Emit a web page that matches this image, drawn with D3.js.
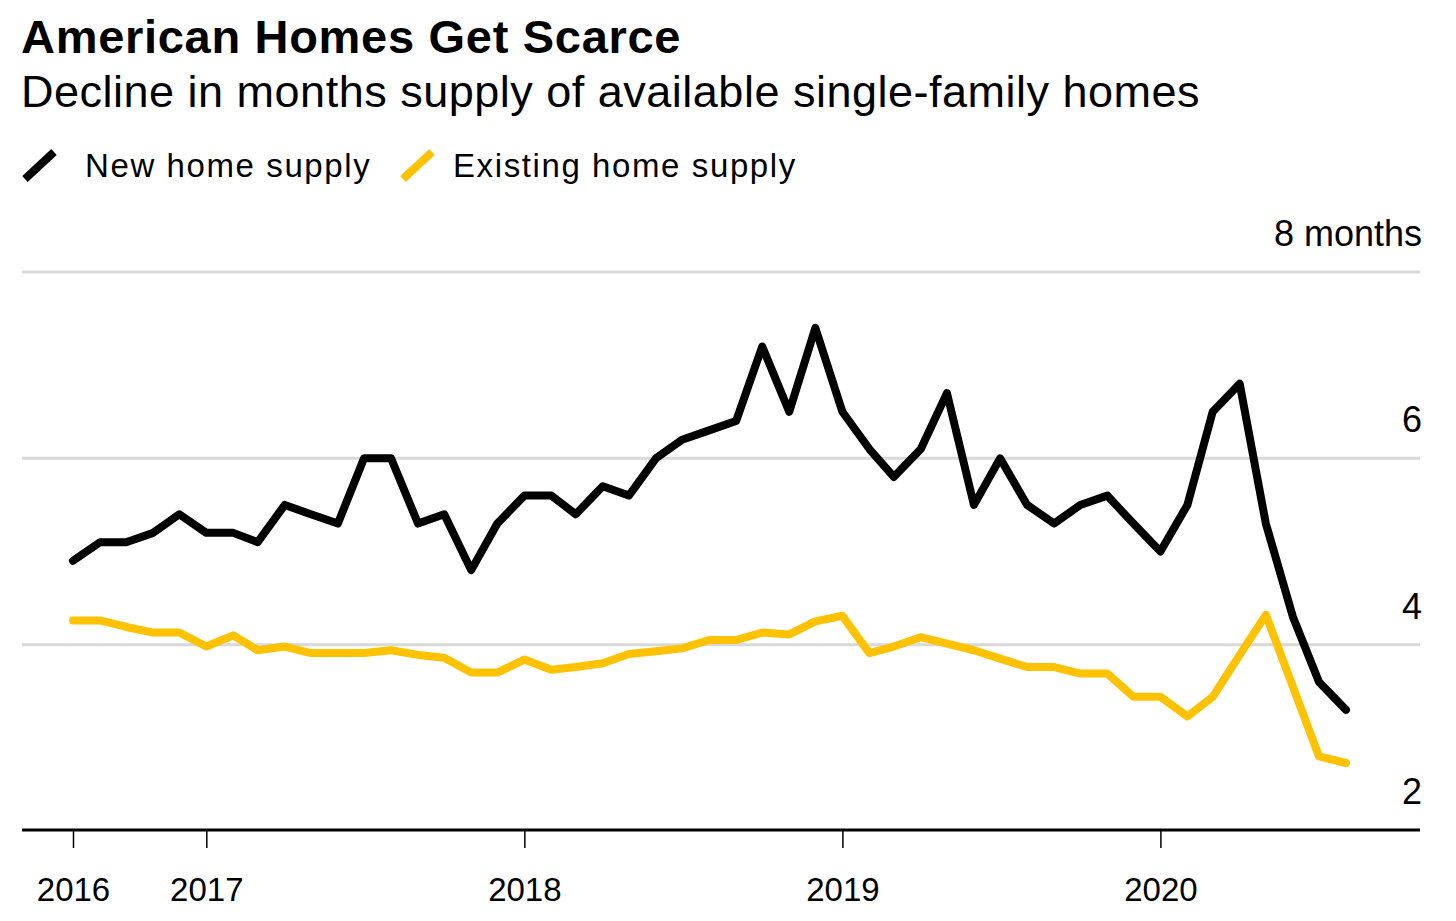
<!DOCTYPE html>
<html>
<head>
<meta charset="utf-8">
<script src="https://cdn.jsdelivr.net/npm/d3@7"></script>
<style>
  html, body { margin: 0; padding: 0; background: #fff; }
  svg { display: block; font-family: "Liberation Sans", Arial, Helvetica, sans-serif; }
</style>
</head>
<body>
<svg id="chart" width="1456" height="921"></svg>
<script>
// ---- Data ----
const startMonth = "2016-08";
const newHomeSupply = [4.9, 5.1, 5.1, 5.2, 5.4, 5.2, 5.2, 5.1, 5.5, 5.4, 5.3, 6.0, 6.0, 5.3, 5.4, 4.8,
  5.3, 5.6, 5.6, 5.4, 5.7, 5.6, 6.0, 6.2, 6.3, 6.4, 7.2, 6.5, 7.4, 6.5, 6.1, 5.8,
  6.1, 6.7, 5.5, 6.0, 5.5, 5.3, 5.5, 5.6, 5.3, 5.0, 5.5, 6.5, 6.8, 5.3, 4.3, 3.6, 3.3];
const existingHomeSupply = [4.26, 4.26, 4.19, 4.13, 4.13, 3.98, 4.1, 3.94, 3.98, 3.91, 3.91, 3.91, 3.94, 3.89, 3.86, 3.7,
  3.7, 3.84, 3.73, 3.76, 3.8, 3.9, 3.93, 3.96, 4.05, 4.05, 4.13, 4.11, 4.25, 4.31, 3.91, 3.98,
  4.08, 4.01, 3.94, 3.85, 3.76, 3.76, 3.69, 3.69, 3.44, 3.44, 3.23, 3.44, 3.89, 4.32, 3.55, 2.8, 2.73];
const seriesNames = ["New home supply", "Existing home supply"];
const seriesColors = ["#000000", "#ffc200"];
const xTickDates = ["2016-08", "2017-01", "2018-01", "2019-01", "2020-01"];
const xTickLabels = ["2016", "2017", "2018", "2019", "2020"];
const yTicks = [2, 4, 6, 8];
const yTickLabels = ["2", "4", "6", "8 months"];
const titleText = "American Homes Get Scarce";
const subtitleText = "Decline in months supply of available single-family homes";

// ---- Setup ----
const parseMonth = d3.timeParse("%Y-%m");
const start = parseMonth(startMonth);
const dates = newHomeSupply.map((_, i) => d3.timeMonth.offset(start, i));
const series = [newHomeSupply, existingHomeSupply].map((vals, k) => ({
  name: seriesNames[k], color: seriesColors[k],
  values: vals.map((v, i) => ({ date: dates[i], value: v }))
}));

const svg = d3.select("#chart");
const left = 22, right = 1420;

const x = d3.scaleTime()
  .domain([dates[0], dates[dates.length - 1]])
  .range([73, 1346]);
const y = d3.scaleLinear().domain([2, 8]).range([831, 272]);

// Title & subtitle
svg.append("text").attr("x", 21).attr("y", 53)
  .attr("font-size", 47).attr("font-weight", "bold").attr("fill", "#000")
  .attr("letter-spacing", 0.7)
  .text(titleText);
svg.append("text").attr("x", 21).attr("y", 107)
  .attr("font-size", 45).attr("fill", "#000").attr("letter-spacing", 0.5)
  .text(subtitleText);

// Legend
const legendPos = [{ icon: 25, text: 85 }, { icon: 403, text: 453 }];
series.forEach((s, k) => {
  const p = legendPos[k];
  svg.append("line")
    .attr("x1", p.icon).attr("y1", 179).attr("x2", p.icon + 29).attr("y2", 152)
    .attr("stroke", s.color).attr("stroke-width", 8);
  svg.append("text").attr("x", p.text).attr("y", 177)
    .attr("font-size", 33).attr("letter-spacing", 1.6).attr("fill", "#000")
    .text(s.name);
});

// Gridlines
svg.append("g").selectAll("line")
  .data(yTicks.filter(t => t > 2))
  .join("line")
  .attr("x1", left).attr("x2", right)
  .attr("y1", d => y(d)).attr("y2", d => y(d))
  .attr("stroke", "#d9d9d9").attr("stroke-width", 3);

// Y labels
svg.append("g").selectAll("text")
  .data(yTicks)
  .join("text")
  .attr("x", 1422)
  .attr("y", d => (d === 2 ? 830 : y(d)) - 26)
  .attr("text-anchor", "end")
  .attr("font-size", 36).attr("fill", "#000")
  .text((d, i) => yTickLabels[i]);

// Lines
const line = d3.line().x(d => x(d.date)).y(d => y(d.value));
svg.append("g").selectAll("path")
  .data(series.slice().reverse())
  .join("path")
  .attr("d", d => line(d.values))
  .attr("fill", "none")
  .attr("stroke", d => d.color)
  .attr("stroke-width", 8)
  .attr("stroke-linejoin", "round")
  .attr("stroke-linecap", "round");

// X axis
const xAxisG = svg.append("g").attr("transform", "translate(0,830)");
xAxisG.append("line").attr("x1", left).attr("x2", right)
  .attr("y1", 0).attr("y2", 0).attr("stroke", "#000").attr("stroke-width", 3);
const axis = d3.axisBottom(x)
  .tickValues(xTickDates.map(parseMonth))
  .tickSize(18)
  .tickPadding(0)
  .tickFormat((d, i) => xTickLabels[i]);
xAxisG.call(axis);
xAxisG.select(".domain").remove();
xAxisG.selectAll(".tick line").attr("stroke", "#000").attr("stroke-width", 1.5);
xAxisG.selectAll(".tick text")
  .attr("font-size", 33).attr("fill", "#000")
  .attr("font-family", "Liberation Sans, Arial, sans-serif")
  .attr("dy", null).attr("y", 71);
</script>
</body>
</html>
